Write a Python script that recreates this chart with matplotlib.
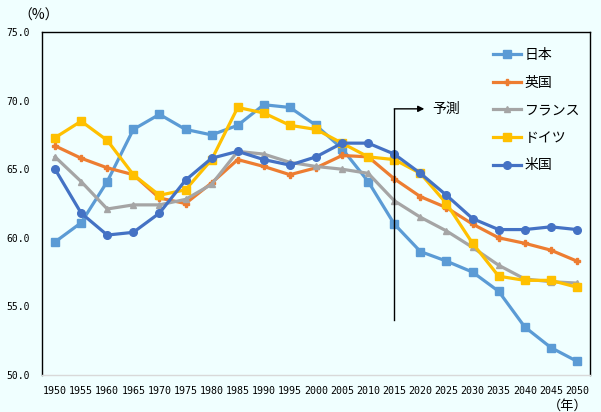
import numpy as np
import matplotlib
matplotlib.use("Agg")
import matplotlib.pyplot as plt

plt.rcParams['font.family'] = ['Noto Sans CJK JP', 'DejaVu Sans']

# data
years = list(range(1950, 2051, 5))
japan   = [59.7, 61.1, 64.1, 67.9, 69.0, 67.9, 67.5, 68.2, 69.7, 69.5, 68.2, 66.5, 64.1, 61.0, 59.0, 58.3, 57.5, 56.1, 53.5, 52.0, 51.0]
uk      = [66.7, 65.8, 65.1, 64.6, 62.9, 62.5, 64.0, 65.7, 65.2, 64.6, 65.1, 66.0, 65.9, 64.3, 63.0, 62.2, 61.0, 60.0, 59.6, 59.1, 58.3]
france  = [65.9, 64.1, 62.1, 62.4, 62.4, 62.8, 63.9, 66.3, 66.1, 65.5, 65.2, 65.0, 64.7, 62.7, 61.5, 60.5, 59.3, 58.0, 57.0, 56.8, 56.7]
germany = [67.3, 68.5, 67.1, 64.6, 63.1, 63.5, 65.7, 69.5, 69.1, 68.2, 67.9, 66.9, 65.9, 65.7, 64.7, 62.5, 59.6, 57.2, 56.9, 56.9, 56.4]
usa     = [65.0, 61.8, 60.2, 60.4, 61.8, 64.2, 65.8, 66.3, 65.7, 65.3, 65.9, 66.9, 66.9, 66.1, 64.7, 63.1, 61.4, 60.6, 60.6, 60.8, 60.6]

names = ['日本', '英国', 'フランス', 'ドイツ', '米国']
colors = ['#5B9BD5', '#ED7D31', '#A5A5A5', '#FFC000', '#4472C4']
markers = ['s', 'P', '^', 's', 'o']
msizes = [6, 5, 5, 6, 5.5]

bg = '#F0FFFF'
fig = plt.figure(figsize=(6.01, 4.12), dpi=100, facecolor=bg)
ax = fig.add_axes([0.0699, 0.0898, 0.9118, 0.8325], facecolor=bg)

x = np.arange(len(years))
for vals, nm, c, m, ms in zip([japan, uk, france, germany, usa], names, colors, markers, msizes):
    ax.plot(x, vals, color=c, lw=2.3, marker=m, ms=ms, mec=c, label=nm)

ax.set_xlim(-0.5, len(years) - 0.5)
ax.set_ylim(50, 75)
ax.set_yticks([50, 55, 60, 65, 70, 75])
ax.set_yticklabels(['%.1f' % v for v in [50, 55, 60, 65, 70, 75]], fontsize=7, family='DejaVu Sans Mono')
ax.set_xticks(x)
ax.set_xticklabels([str(y) for y in years], fontsize=7.2, family='DejaVu Sans Mono')
ax.tick_params(length=0, pad=8)
ax.tick_params(axis='y', pad=9)
for s in ['left', 'top', 'right']:
    ax.spines[s].set_color('black')
    ax.spines[s].set_linewidth(1)
ax.spines['bottom'].set_color('#D9D9D9')
ax.spines['bottom'].set_linewidth(1)

# forecast marker
i15 = years.index(2015)
ax.annotate('', xy=(i15 + 1.15, 69.4), xytext=(i15, 69.4),
            arrowprops=dict(arrowstyle='-|>', color='black', lw=1, mutation_scale=9,
                            shrinkA=0, shrinkB=0))
ax.plot([i15, i15], [54.0, 69.4], color='black', lw=1)
ax.text(i15 + 1.45, 69.4, '予測', fontsize=10, va='center', ha='left')

leg = ax.legend(loc='upper right', bbox_to_anchor=(1.005, 0.99), frameon=False,
                fontsize=10, handlelength=2.0, handletextpad=0.3, labelspacing=0.98)

fig.text(0.03, 0.962, '（%）', fontsize=10, ha='left', va='center')
fig.text(0.944, 0.013, '（年）', fontsize=9.5, ha='center', va='center')

fig.savefig('out.png', dpi=100, facecolor=bg)
